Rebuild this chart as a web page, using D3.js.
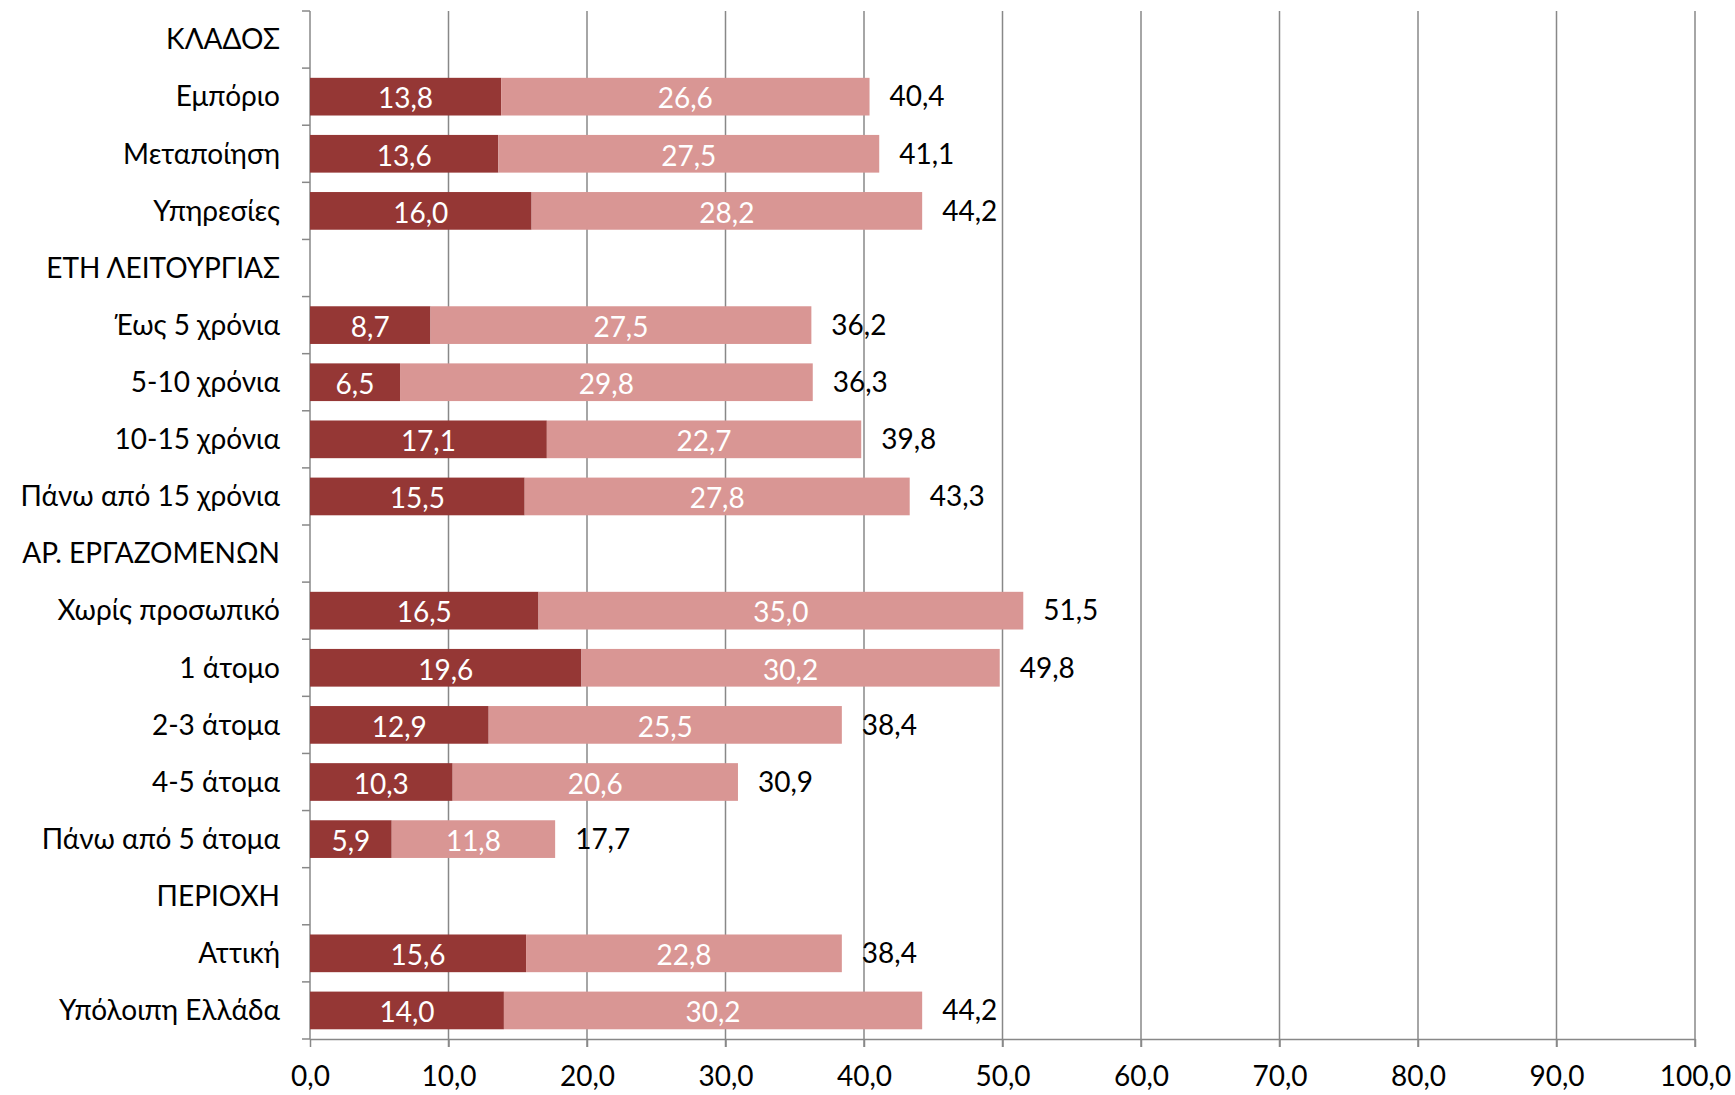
<!DOCTYPE html>
<html><head><meta charset="utf-8">
<script src="https://cdn.jsdelivr.net/npm/d3@7"></script>
<style>body{margin:0;background:#fff}text{font-family:Lato,"Open Sans",sans-serif}</style>
</head><body><svg id="c" width="1735" height="1095"></svg>
<script>
// categories, top to bottom (headers have no bars)
var categories = ["ΚΛΑΔΟΣ","Εμπόριο","Μεταποίηση","Υπηρεσίες","ΕΤΗ ΛΕΙΤΟΥΡΓΙΑΣ","Έως 5 χρόνια","5-10 χρόνια","10-15 χρόνια","Πάνω από 15 χρόνια","ΑΡ. ΕΡΓΑΖΟΜΕΝΩΝ","Χωρίς προσωπικό","1 άτομο","2-3 άτομα","4-5 άτομα","Πάνω από 5 άτομα","ΠΕΡΙΟΧΗ","Αττική","Υπόλοιπη Ελλάδα"];
var seriesA = [null,13.8,13.6,16.0,null,8.7,6.5,17.1,15.5,null,16.5,19.6,12.9,10.3,5.9,null,15.6,14.0];
var seriesB = [null,26.6,27.5,28.2,null,27.5,29.8,22.7,27.8,null,35.0,30.2,25.5,20.6,11.8,null,22.8,30.2];
var totals  = [null,40.4,41.1,44.2,null,36.2,36.3,39.8,43.3,null,51.5,49.8,38.4,30.9,17.7,null,38.4,44.2];
var ticks = [0,10,20,30,40,50,60,70,80,90,100];

var svg = d3.select("#c");
var L = 310, R = 1695, T = 11, B = 1039, FS = 28;
var x = d3.scaleLinear().domain([0,100]).range([L,R]);
var y = d3.scaleBand().domain(categories).range([T,B]).paddingInner(0.34).paddingOuter(0.17);
var fmt = function (v) { return v.toFixed(1).replace(".", ","); };

// gridlines
svg.append("g").selectAll("line").data(ticks.slice(1)).join("line")
    .attr("x1", d => x(d)).attr("x2", d => x(d)).attr("y1", T).attr("y2", B + 8)
    .attr("stroke", "#888").attr("stroke-width", 1.5);

// x axis
var xa = svg.append("g").attr("transform", "translate(0," + B + ")")
    .call(d3.axisBottom(x).tickValues(ticks).tickFormat(fmt).tickSize(8).tickSizeOuter(0));
xa.select(".domain").attr("stroke", "#888").attr("stroke-width", 1.5);
xa.selectAll(".tick line").attr("stroke", "#888").attr("stroke-width", 1.5);
xa.selectAll("text").attr("font-size", FS).attr("fill", "#000").attr("dy", "1.3em");

// y axis line and ticks at band boundaries
svg.append("line").attr("x1", L).attr("x2", L).attr("y1", T).attr("y2", B).attr("stroke", "#888").attr("stroke-width", 1.5);
var step = (B - T) / categories.length;
svg.append("g").selectAll("line").data(d3.range(categories.length + 1)).join("line")
    .attr("x1", L - 8).attr("x2", L).attr("y1", i => T + i * step).attr("y2", i => T + i * step)
    .attr("stroke", "#888").attr("stroke-width", 1.5);

// category labels
svg.append("g").selectAll("text").data(categories).join("text")
    .attr("x", L - 30).attr("y", d => y(d) + y.bandwidth() / 2).attr("dy", "0.35em")
    .attr("text-anchor", "end").attr("font-size", FS).text(d => d);

var rows = categories.map((c, i) => ({c: c, a: seriesA[i], b: seriesB[i], t: totals[i]})).filter(d => d.a !== null);

var g = svg.append("g");
g.selectAll(".a").data(rows).join("rect").attr("class", "a")
    .attr("x", x(0)).attr("y", d => y(d.c)).attr("width", d => x(d.a) - x(0)).attr("height", y.bandwidth())
    .attr("fill", "#953735");
g.selectAll(".b").data(rows).join("rect").attr("class", "b")
    .attr("x", d => x(d.a)).attr("y", d => y(d.c)).attr("width", d => x(d.a + d.b) - x(d.a)).attr("height", y.bandwidth())
    .attr("fill", "#D99694");

g.selectAll(".la").data(rows).join("text")
    .attr("x", d => (x(0) + x(d.a)) / 2).attr("y", d => y(d.c) + y.bandwidth() / 2 + 2).attr("dy", "0.35em")
    .attr("text-anchor", "middle").attr("font-size", FS).attr("fill", "#fff").text(d => fmt(d.a));
g.selectAll(".lb").data(rows).join("text")
    .attr("x", d => (x(d.a) + x(d.a + d.b)) / 2).attr("y", d => y(d.c) + y.bandwidth() / 2 + 2).attr("dy", "0.35em")
    .attr("text-anchor", "middle").attr("font-size", FS).attr("fill", "#fff").text(d => fmt(d.b));
g.selectAll(".lt").data(rows).join("text")
    .attr("x", d => x(d.a + d.b) + 20).attr("y", d => y(d.c) + y.bandwidth() / 2).attr("dy", "0.35em")
    .attr("text-anchor", "start").attr("font-size", FS).attr("fill", "#000").text(d => fmt(d.t));
</script></body></html>
